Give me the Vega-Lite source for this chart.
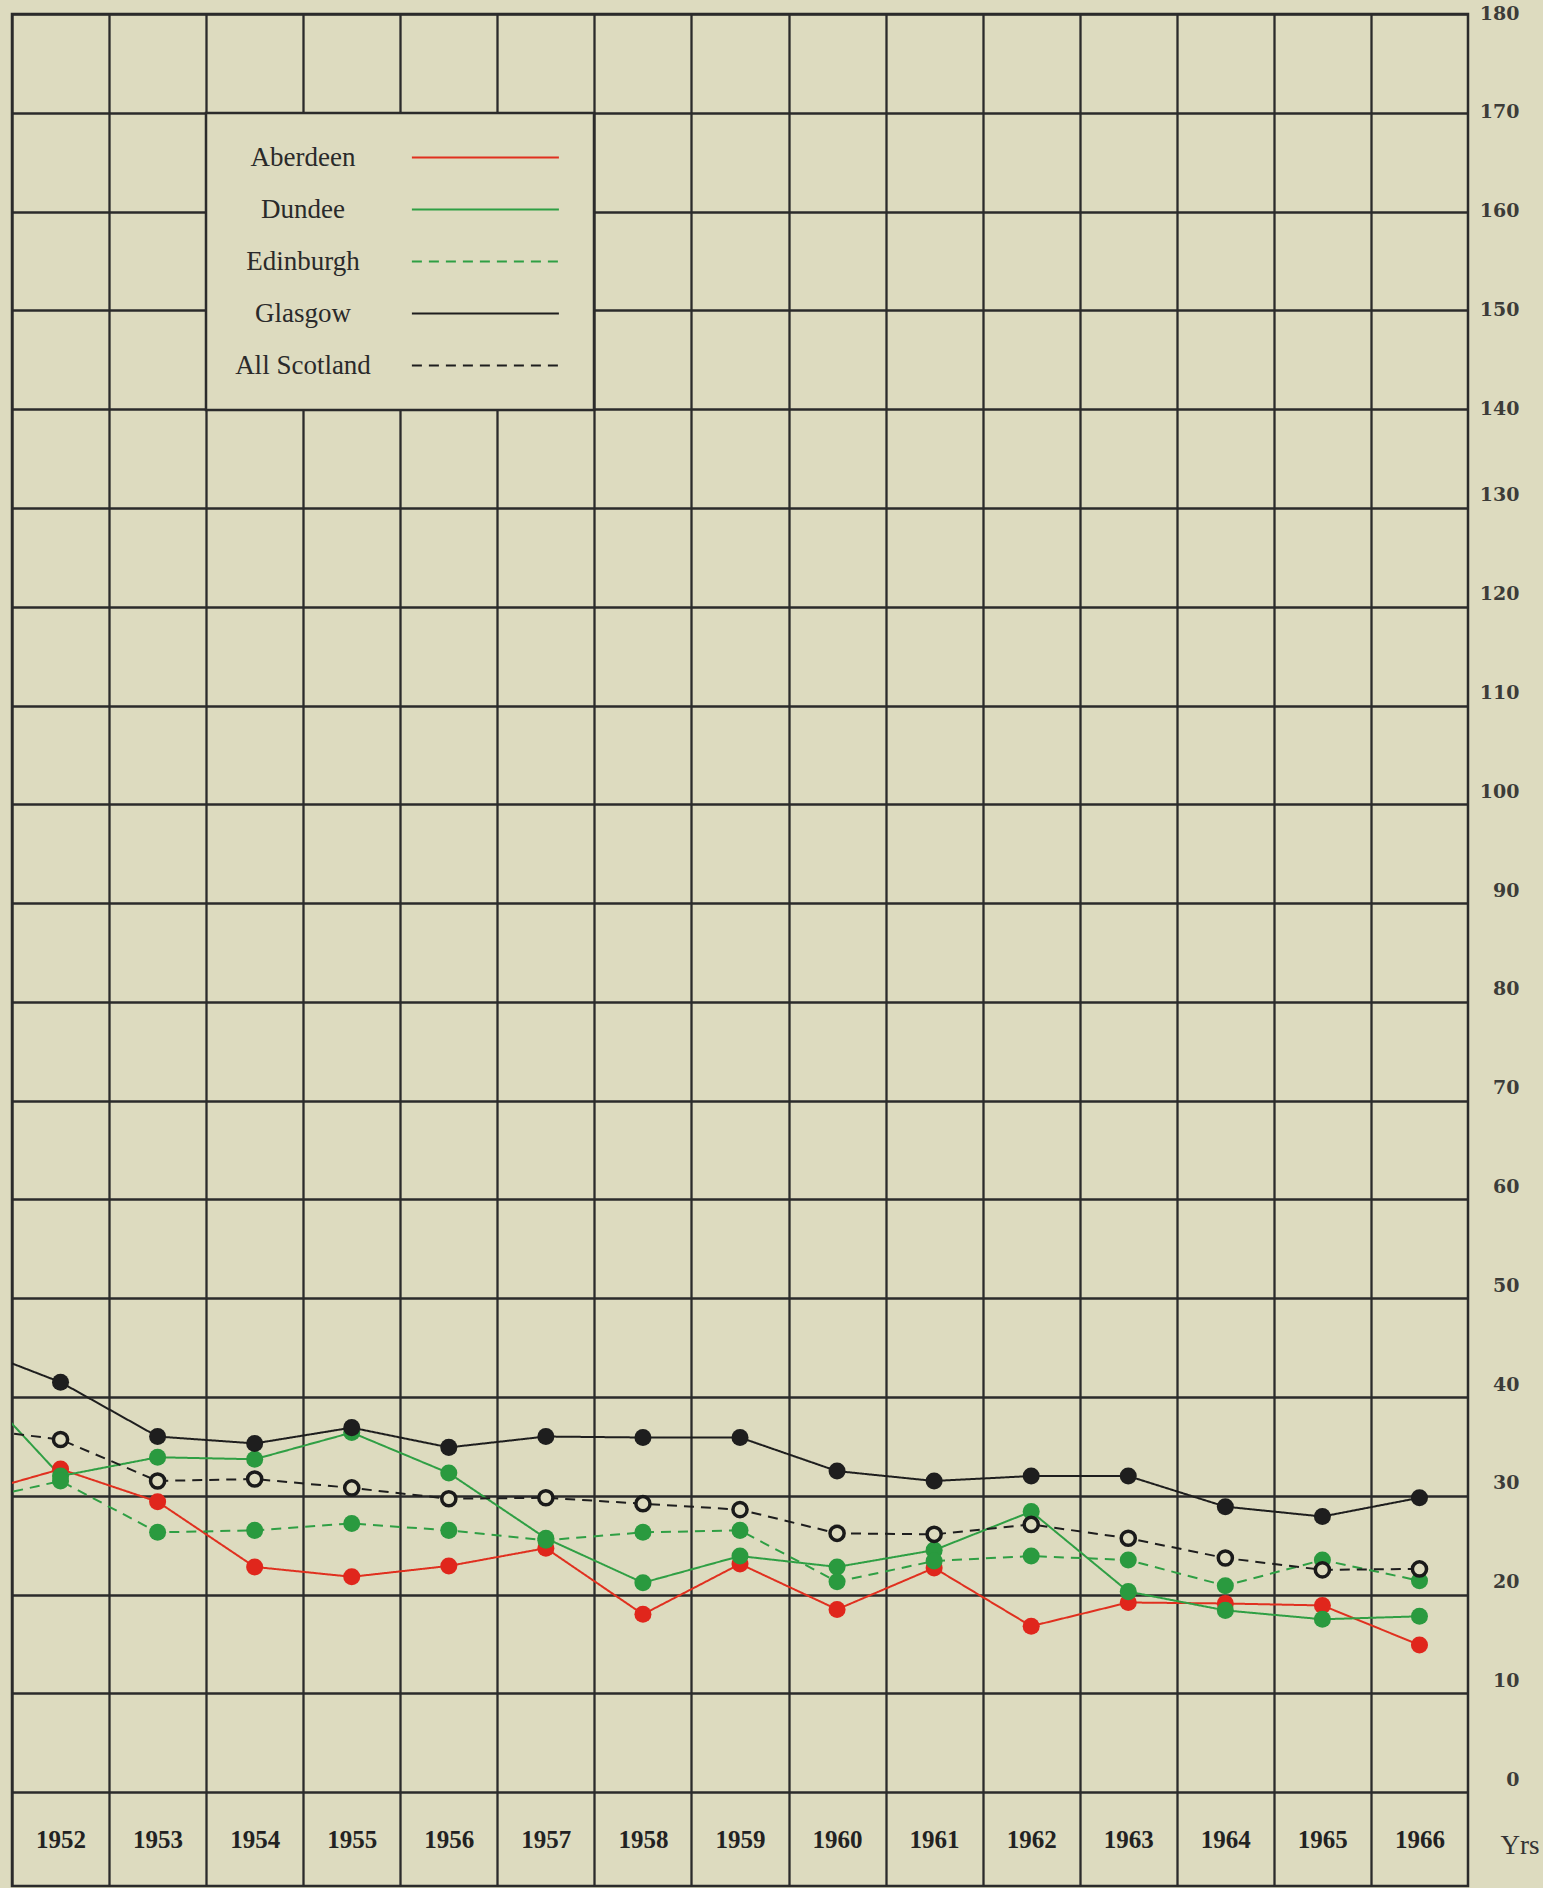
{
  "$schema": "https://vega.github.io/schema/vega-lite/v6.json",
  "width": 1456,
  "height": 1872,
  "autosize": {"type": "none"},
  "padding": {"left": 12, "top": 14, "right": 75, "bottom": 2},
  "background": "#dddbbf",
  "config": {
    "view": {"stroke": "#2b2b2b", "strokeWidth": 2.5},
    "font": "Liberation Serif",
    "legend": {
      "orient": "none",
      "legendX": 194,
      "legendY": 99,
      "title": null,
      "symbolType": "M26.9,0H51.4",
      "symbolSize": 144,
      "symbolStrokeWidth": 3,
      "labelFont": "Liberation Serif",
      "labelFontSize": 27,
      "labelColor": "#2a2a2a",
      "labelAlign": "center",
      "labelBaseline": "middle",
      "labelOffset": 39,
      "rowPadding": 24,
      "padding": 31,
      "fillColor": "#dddbbf",
      "strokeColor": "#2b2b2b",
      "strokeWidth": 2.5
    }
  },
  "data": {
    "values": [
      {"year": 1951, "series": "Aberdeen", "rate": 29.9},
      {"year": 1952, "series": "Aberdeen", "rate": 32.7},
      {"year": 1953, "series": "Aberdeen", "rate": 29.4},
      {"year": 1954, "series": "Aberdeen", "rate": 22.8},
      {"year": 1955, "series": "Aberdeen", "rate": 21.8},
      {"year": 1956, "series": "Aberdeen", "rate": 22.9},
      {"year": 1957, "series": "Aberdeen", "rate": 24.7},
      {"year": 1958, "series": "Aberdeen", "rate": 18.0},
      {"year": 1959, "series": "Aberdeen", "rate": 23.1},
      {"year": 1960, "series": "Aberdeen", "rate": 18.5},
      {"year": 1961, "series": "Aberdeen", "rate": 22.7},
      {"year": 1962, "series": "Aberdeen", "rate": 16.8},
      {"year": 1963, "series": "Aberdeen", "rate": 19.2},
      {"year": 1964, "series": "Aberdeen", "rate": 19.1},
      {"year": 1965, "series": "Aberdeen", "rate": 18.9},
      {"year": 1966, "series": "Aberdeen", "rate": 14.9},
      {"year": 1951, "series": "Dundee", "rate": 42.6},
      {"year": 1952, "series": "Dundee", "rate": 32.0},
      {"year": 1953, "series": "Dundee", "rate": 33.9},
      {"year": 1954, "series": "Dundee", "rate": 33.7},
      {"year": 1955, "series": "Dundee", "rate": 36.4},
      {"year": 1956, "series": "Dundee", "rate": 32.3},
      {"year": 1957, "series": "Dundee", "rate": 25.7},
      {"year": 1958, "series": "Dundee", "rate": 21.2},
      {"year": 1959, "series": "Dundee", "rate": 23.9},
      {"year": 1960, "series": "Dundee", "rate": 22.8},
      {"year": 1961, "series": "Dundee", "rate": 24.5},
      {"year": 1962, "series": "Dundee", "rate": 28.4},
      {"year": 1963, "series": "Dundee", "rate": 20.3},
      {"year": 1964, "series": "Dundee", "rate": 18.4},
      {"year": 1965, "series": "Dundee", "rate": 17.5},
      {"year": 1966, "series": "Dundee", "rate": 17.8},
      {"year": 1951, "series": "Edinburgh", "rate": 29.3},
      {"year": 1952, "series": "Edinburgh", "rate": 31.5},
      {"year": 1953, "series": "Edinburgh", "rate": 26.3},
      {"year": 1954, "series": "Edinburgh", "rate": 26.5},
      {"year": 1955, "series": "Edinburgh", "rate": 27.2},
      {"year": 1956, "series": "Edinburgh", "rate": 26.5},
      {"year": 1957, "series": "Edinburgh", "rate": 25.5},
      {"year": 1958, "series": "Edinburgh", "rate": 26.3},
      {"year": 1959, "series": "Edinburgh", "rate": 26.5},
      {"year": 1960, "series": "Edinburgh", "rate": 21.3},
      {"year": 1961, "series": "Edinburgh", "rate": 23.4},
      {"year": 1962, "series": "Edinburgh", "rate": 23.9},
      {"year": 1963, "series": "Edinburgh", "rate": 23.5},
      {"year": 1964, "series": "Edinburgh", "rate": 20.9},
      {"year": 1965, "series": "Edinburgh", "rate": 23.5},
      {"year": 1966, "series": "Edinburgh", "rate": 21.4},
      {"year": 1951, "series": "Glasgow", "rate": 45.3},
      {"year": 1952, "series": "Glasgow", "rate": 41.5},
      {"year": 1953, "series": "Glasgow", "rate": 36.0},
      {"year": 1954, "series": "Glasgow", "rate": 35.3},
      {"year": 1955, "series": "Glasgow", "rate": 36.9},
      {"year": 1956, "series": "Glasgow", "rate": 34.9},
      {"year": 1957, "series": "Glasgow", "rate": 36.0},
      {"year": 1958, "series": "Glasgow", "rate": 35.9},
      {"year": 1959, "series": "Glasgow", "rate": 35.9},
      {"year": 1960, "series": "Glasgow", "rate": 32.5},
      {"year": 1961, "series": "Glasgow", "rate": 31.5},
      {"year": 1962, "series": "Glasgow", "rate": 32.0},
      {"year": 1963, "series": "Glasgow", "rate": 32.0},
      {"year": 1964, "series": "Glasgow", "rate": 28.9},
      {"year": 1965, "series": "Glasgow", "rate": 27.9},
      {"year": 1966, "series": "Glasgow", "rate": 29.8},
      {"year": 1951, "series": "All Scotland", "rate": 36.9},
      {"year": 1952, "series": "All Scotland", "rate": 35.7},
      {"year": 1953, "series": "All Scotland", "rate": 31.5},
      {"year": 1954, "series": "All Scotland", "rate": 31.7},
      {"year": 1955, "series": "All Scotland", "rate": 30.8},
      {"year": 1956, "series": "All Scotland", "rate": 29.7},
      {"year": 1957, "series": "All Scotland", "rate": 29.8},
      {"year": 1958, "series": "All Scotland", "rate": 29.2},
      {"year": 1959, "series": "All Scotland", "rate": 28.6},
      {"year": 1960, "series": "All Scotland", "rate": 26.2},
      {"year": 1961, "series": "All Scotland", "rate": 26.1},
      {"year": 1962, "series": "All Scotland", "rate": 27.1},
      {"year": 1963, "series": "All Scotland", "rate": 25.7},
      {"year": 1964, "series": "All Scotland", "rate": 23.7},
      {"year": 1965, "series": "All Scotland", "rate": 22.5},
      {"year": 1966, "series": "All Scotland", "rate": 22.6}
    ]
  },
  "encoding": {
    "x": {
      "field": "year",
      "type": "quantitative",
      "scale": {"domain": [1951.5, 1966.5], "nice": false, "zero": false},
      "axis": {
        "values": [1951.5, 1952.5, 1953.5, 1954.5, 1955.5, 1956.5, 1957.5, 1958.5, 1959.5, 1960.5, 1961.5, 1962.5, 1963.5, 1964.5, 1965.5],
        "grid": true,
        "gridColor": "#2b2b2b",
        "gridWidth": 2.3,
        "ticks": false,
        "tickSize": 0,
        "domain": false,
        "labelExpr": "'' + (datum.value + 0.5)",
        "labelOffset": 48.5,
        "labelPadding": -47,
        "labelBaseline": "middle",
        "labelFont": "Liberation Serif",
        "labelFontWeight": "bold",
        "labelFontSize": 25,
        "labelColor": "#222222",
        "labelFlush": false,
        "labelOverlap": false,
        "labelBound": false,
        "title": "Yrs",
        "titleX": 1488,
        "titleY": -41,
        "titleAlign": "left",
        "titleBaseline": "middle",
        "titleFont": "Liberation Serif",
        "titleFontSize": 27,
        "titleFontWeight": "normal",
        "titleColor": "#333333"
      }
    },
    "y": {
      "field": "rate",
      "type": "quantitative",
      "scale": {"domain": [-9.5, 180], "nice": false, "zero": false},
      "axis": {
        "orient": "right",
        "values": [0, 10, 20, 30, 40, 50, 60, 70, 80, 90, 100, 110, 120, 130, 140, 150, 160, 170, 180],
        "grid": true,
        "gridColor": "#2b2b2b",
        "gridWidth": 2.3,
        "ticks": false,
        "tickSize": 0,
        "domain": false,
        "labelAlign": "right",
        "labelBaseline": "middle",
        "labelPadding": 51,
        "labelOffset": {"condition": {"test": "datum.value >= 140", "value": -1}, "value": -13},
        "labelFont": "DejaVu Serif",
        "labelFontWeight": "bold",
        "labelFontSize": 19,
        "labelColor": "#3c3c38",
        "labelFlush": false,
        "labelOverlap": false,
        "title": null
      }
    }
  },
  "layer": [
    {
      "mark": {"type": "line", "clip": true},
      "encoding": {
        "stroke": {
          "field": "series",
          "type": "nominal",
          "scale": {
            "domain": ["Aberdeen", "Dundee", "Edinburgh", "Glasgow", "All Scotland"],
            "range": ["#e0301f", "#2f9f44", "#2f9f44", "#1e1e1e", "#1e1e1e"]
          },
          "legend": {"title": null}
        },
        "strokeDash": {
          "field": "series",
          "type": "nominal",
          "scale": {
            "domain": ["Aberdeen", "Dundee", "Edinburgh", "Glasgow", "All Scotland"],
            "range": [[1, 0], [1, 0], [10, 7], [1, 0], [10, 7]]
          },
          "legend": {"title": null}
        },
        "strokeWidth": {
          "field": "series",
          "type": "nominal",
          "scale": {
            "domain": ["Aberdeen", "Dundee", "Edinburgh", "Glasgow", "All Scotland"],
            "range": [2, 2, 2.2, 3, 3.2]
          },
          "legend": null
        }
      }
    },
    {
      "mark": {"type": "point", "filled": true, "clip": true, "opacity": 1},
      "encoding": {
        "fill": {
          "field": "series",
          "type": "nominal",
          "scale": {
            "domain": ["Aberdeen", "Dundee", "Edinburgh", "Glasgow", "All Scotland"],
            "range": ["#e0261c", "#2a9a3f", "#2a9a3f", "#1e1e1e", "#dddbbf"]
          },
          "legend": null
        },
        "stroke": {"condition": {"test": "datum.series === 'All Scotland'", "value": "#1a1a1a"}, "value": null},
        "strokeWidth": {"value": 3.5},
        "size": {"condition": {"test": "datum.series === 'All Scotland'", "value": 200}, "value": 290}
      }
    }
  ]
}
